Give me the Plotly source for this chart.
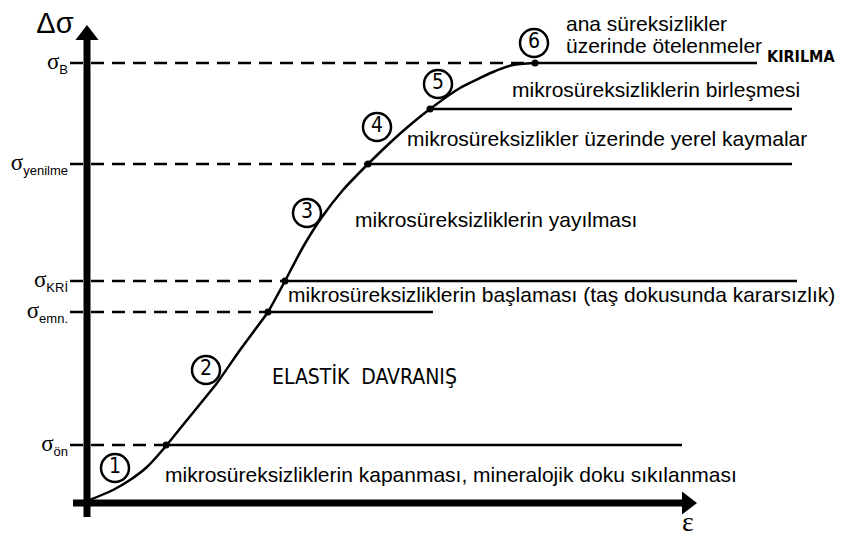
import plotly.graph_objects as go

# stress-strain curve (strain eps, stress sigma)
curve_eps = [0, 26, 43, 60, 79, 100, 130, 153, 170, 181, 198, 216, 235, 256,
             281, 306, 323, 343, 373, 406, 426, 448]
curve_sig = [2, 13, 23, 36, 57, 83, 120, 153, 176, 191, 222, 256, 286, 313,
             339, 363, 378, 394, 415, 431, 438, 440]

# threshold levels
level_sig = [440, 394, 339, 222, 191, 58]
level_eps = [448, 343, 281, 198, 181, 79]
level_end = [670, 705, 705, 710, 346, 595]
level_dashed = [True, False, True, True, True, True]
level_sym = ["B", "", "yenilme", "KRİ", "emn.", "ön"]

# circled stage numbers
stage_nums = ["1", "2", "3", "4", "5", "6"]
stage_eps = [28, 119, 220, 290, 351, 447]
stage_sig = [35, 133, 290, 376, 419, 460]

# stage descriptions
desc_text = [
    "ana süreksizlikler",
    "üzerinde ötelenmeler",
    "mikrosüreksizliklerin birleşmesi",
    "mikrosüreksizlikler üzerinde yerel kaymalar",
    "mikrosüreksizliklerin yayılması",
    "mikrosüreksizliklerin başlaması (taş dokusunda kararsızlık)",
    "mikrosüreksizliklerin kapanması, mineralojik doku sıkılanması",
]
desc_eps = [479, 479, 425, 320, 268, 201, 78]
desc_sig = [477, 455, 411, 362, 281, 206, 26]

FONT = "Liberation Sans"
fig = go.Figure()

# horizontal threshold lines
for s, e, end, dashed in zip(level_sig, level_eps, level_end, level_dashed):
    if dashed:
        fig.add_trace(go.Scatter(x=[-17, e], y=[s, s], mode="lines",
                                 line=dict(color="black", width=2.5, dash="13px,8px")))
    fig.add_trace(go.Scatter(x=[e, end], y=[s, s], mode="lines",
                             line=dict(color="black", width=2.5)))

# axes
fig.add_trace(go.Scatter(x=[0, 0], y=[-14, 466], mode="lines",
                         line=dict(color="black", width=7)))
fig.add_trace(go.Scatter(x=[-14, 598], y=[0, 0], mode="lines",
                         line=dict(color="black", width=7)))
fig.add_trace(go.Scatter(x=[0], y=[468], mode="markers",
                         marker=dict(symbol="triangle-up", size=20, color="black")))
fig.add_trace(go.Scatter(x=[600], y=[0], mode="markers",
                         marker=dict(symbol="triangle-right", size=20, color="black")))

# curve
fig.add_trace(go.Scatter(x=curve_eps, y=curve_sig, mode="lines",
                         line=dict(color="black", width=2.5, shape="spline", smoothing=0.5)))
fig.add_trace(go.Scatter(x=level_eps, y=level_sig, mode="markers",
                         marker=dict(color="black", size=7)))

# circled numbers
fig.add_trace(go.Scatter(x=stage_eps, y=stage_sig, mode="markers+text",
                         text=stage_nums, textposition="middle center",
                         textfont=dict(family="DejaVu Sans Condensed", size=21, color="black"),
                         marker=dict(symbol="circle", size=28, color="white",
                                     line=dict(color="black", width=2.5))))

# level labels on the left
labels = ["σ<sub><span style='font-family:Liberation Sans;font-size:13px'>%s</span></sub>" % s
          if s else "" for s in level_sym]
fig.add_trace(go.Scatter(x=[-19] * len(level_sig), y=level_sig, mode="text",
                         text=labels, textposition="middle left",
                         textfont=dict(family="Liberation Serif", size=23, color="black")))

# descriptions
fig.add_trace(go.Scatter(x=desc_eps, y=desc_sig, mode="text",
                         text=desc_text, textposition="middle right",
                         textfont=dict(family=FONT, size=21, color="black")))

fig.add_trace(go.Scatter(x=[680], y=[445], mode="text", text=["<b>KIRILMA</b>"],
                         textposition="middle right",
                         textfont=dict(family="DejaVu Sans Condensed", size=16, color="black")))
fig.add_trace(go.Scatter(x=[185], y=[124], mode="text", text=["ELASTİK  DAVRANIŞ"],
                         textposition="middle right",
                         textfont=dict(family="DejaVu Sans Condensed", size=21, color="black")))
fig.add_trace(go.Scatter(x=[-32], y=[477], mode="text", text=["Δσ"],
                         textposition="middle center",
                         textfont=dict(family=FONT, size=29, color="black")))
fig.add_trace(go.Scatter(x=[601], y=[-21], mode="text", text=["ε"],
                         textposition="middle center",
                         textfont=dict(family="Liberation Serif", size=28, color="black")))

# ranges offset by the 8px page margin so marks land where the picture has them
fig.update_layout(
    width=845, height=536,
    margin=dict(l=0, r=0, t=0, b=0),
    showlegend=False,
    paper_bgcolor="white", plot_bgcolor="white",
    xaxis=dict(range=[-79, 766], visible=False),
    yaxis=dict(range=[-41, 495], visible=False),
)
fig.write_html("out.html")
